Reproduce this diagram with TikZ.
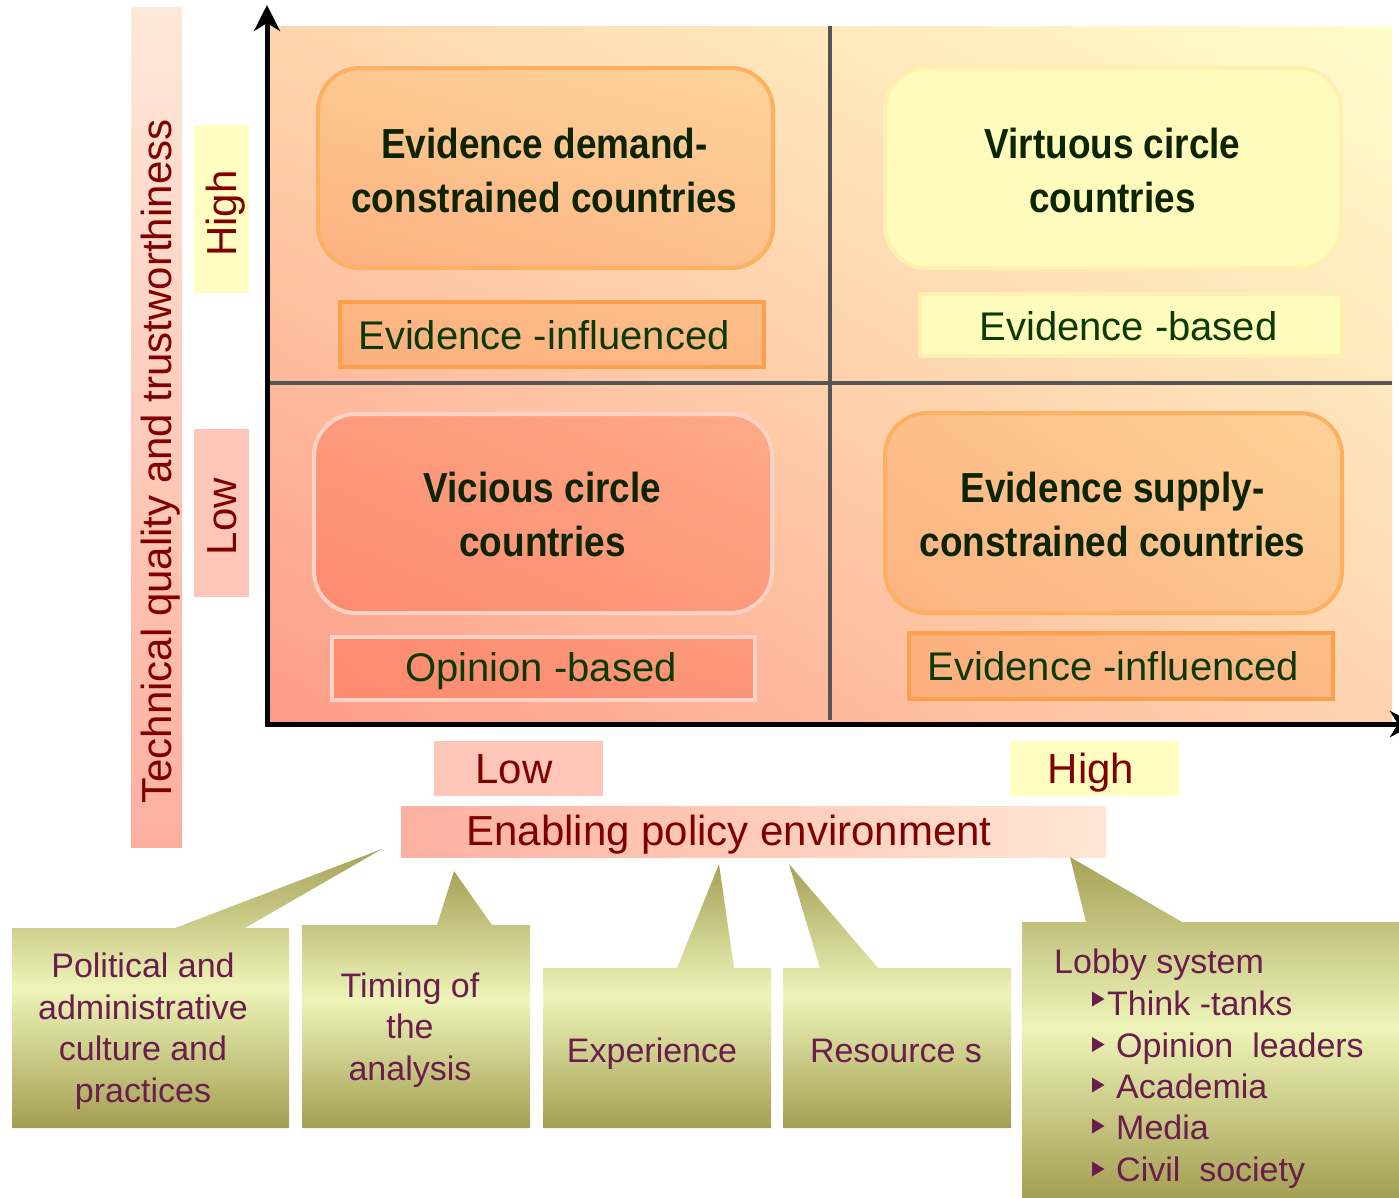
\documentclass[tikz,border=0pt]{standalone}
\usepackage{fontspec}
\setmainfont{Liberation Sans}
\newfontfamily\headfont[FakeStretch=0.88]{Liberation Sans}
\usetikzlibrary{arrows.meta,shadings}
\definecolor{bgUL}{HTML}{FED6AE}
\definecolor{bgUR}{HTML}{FFFDCB}
\definecolor{bgLL}{HTML}{FD9C88}
\definecolor{bgLR}{HTML}{FED4B0}
\definecolor{divider}{HTML}{555555}
\definecolor{headgreen}{HTML}{0C2400}
\definecolor{labgreen}{HTML}{0A3A00}
\definecolor{axred}{HTML}{800000}
\definecolor{plum}{HTML}{6B1E4E}
\definecolor{oliveD}{HTML}{A6A258}
\definecolor{oliveL}{HTML}{EEF4B8}
\definecolor{oliveB}{HTML}{A39F52}
\definecolor{orangeEdge}{HTML}{FDB060}
\definecolor{orangeEdgeL}{HTML}{FDA04C}
\definecolor{yellowFill}{HTML}{FFFBBD}
\definecolor{yellowEdge}{HTML}{FFF0B0}
\definecolor{pinkEdge}{HTML}{FFD2C6}
\definecolor{yBarTop}{HTML}{FEE8D8}
\definecolor{yBarBot}{HTML}{FDAF9E}
\definecolor{paleYellow}{HTML}{FFFDC0}
\definecolor{palePink}{HTML}{FDC6B8}
\definecolor{envL}{HTML}{FDB0A0}
\definecolor{envR}{HTML}{FFE6D4}
% quadrant box shades
\definecolor{qaUL}{HTML}{FDC890}\definecolor{qaUR}{HTML}{FDD49C}\definecolor{qaLL}{HTML}{FCB080}\definecolor{qaLR}{HTML}{FDC08C}
\definecolor{qcUL}{HTML}{FD9A7C}\definecolor{qcUR}{HTML}{FDAA88}\definecolor{qcLL}{HTML}{FD8A6E}\definecolor{qcLR}{HTML}{FD9A7C}
\definecolor{qdUL}{HTML}{FDBE88}\definecolor{qdUR}{HTML}{FED298}\definecolor{qdLL}{HTML}{FDB282}\definecolor{qdLR}{HTML}{FDC490}
% label shades
\definecolor{laUL}{HTML}{FDB682}\definecolor{laUR}{HTML}{FDC08A}\definecolor{laLL}{HTML}{FCAE7E}\definecolor{laLR}{HTML}{FDB886}
\definecolor{lcUL}{HTML}{FD8C70}\definecolor{lcUR}{HTML}{FD9A7C}\definecolor{lcLL}{HTML}{FD8A6E}\definecolor{lcLR}{HTML}{FD9478}
\definecolor{ldUL}{HTML}{FDB080}\definecolor{ldUR}{HTML}{FDBE88}\definecolor{ldLL}{HTML}{FDAE7E}\definecolor{ldLR}{HTML}{FDB886}
\newcommand\lobbybullet[1]{\fill[plum] (1092,#1-7.5) -- (1104.5,#1) -- (1092,#1+7.5) -- cycle;}
\begin{document}
\begin{tikzpicture}[x=1pt,y=-1pt,
  qbox/.style={rectangle, rounded corners=42pt, line width=4pt, inner sep=0pt},
  lbox/.style={rectangle, line width=4pt, inner sep=0pt},
  plainbox/.style={rectangle, inner sep=0pt, draw=none},
  headtxt/.style={font=\headfont\bfseries\fontsize{42}{53.5}\selectfont, text=headgreen, align=center, inner sep=0pt, anchor=base},
  labtxt/.style={font=\fontsize{40}{48}\selectfont, text=labgreen, inner sep=0pt, anchor=base},
  axtxt/.style={font=\fontsize{42}{50}\selectfont, text=axred, inner sep=0pt, anchor=base},
  calltxt/.style={font=\fontsize{34}{41.5}\selectfont, text=plum, align=center, inner sep=0pt, anchor=base},
  lobbytxt/.style={font=\fontsize{34}{41.5}\selectfont, text=plum, inner sep=0pt, anchor=base west},
  axisline/.style={line width=5pt, -{Stealth[length=26pt,width=26pt,inset=8pt]}},
  callout/.style={top color=oliveD, bottom color=oliveB, middle color=oliveL},
]
\useasboundingbox (0,0) rectangle (1399,1197);

% quadrant background
\shade[upper left=bgUL, upper right=bgUR, lower left=bgLL, lower right=bgLR] (270,26) rectangle (1392,721);
\draw[divider, line width=4pt] (830,26) -- (830,720);
\draw[divider, line width=4pt] (270,382.5) -- (1392,382.5);

% axes
\coordinate (origin) at (267,724);
\coordinate (ytip) at (267,5);
\coordinate (xtip) at (1416,724);
\coordinate (xstart) at (264.5,724);
\draw[axisline] (origin) -- (ytip);
\draw[axisline] (xstart) -- (xtip);

% quadrant boxes
\node[qbox, draw=orangeEdge, upper left=qaUL, upper right=qaUR, lower left=qaLL, lower right=qaLR,
      minimum width=455pt, minimum height=200pt] (q1box) at (545.5,168) {};
\node[qbox, draw=yellowEdge, fill=yellowFill, minimum width=456pt, minimum height=200pt] (q2box) at (1113,168) {};
\node[qbox, draw=pinkEdge, upper left=qcUL, upper right=qcUR, lower left=qcLL, lower right=qcLR,
      minimum width=458pt, minimum height=199pt] (q3box) at (543,513.5) {};
\node[qbox, draw=orangeEdge, upper left=qdUL, upper right=qdUR, lower left=qdLL, lower right=qdLR,
      minimum width=457pt, minimum height=200pt] (q4box) at (1113.5,513) {};

% multi-line nodes: base anchor = baseline of the last line
\node[headtxt] (q1txt) at (544.5,212) {Evidence demand-\\constrained countries};
\node[headtxt] (q2txt) at (1112.5,212) {Virtuous circle\\countries};
\node[headtxt] (q3txt) at (542.5,556) {Vicious circle\\countries};
\node[headtxt] (q4txt) at (1112.5,556) {Evidence supply-\\constrained countries};

% quadrant labels
\node[lbox, draw=orangeEdgeL, upper left=laUL, upper right=laUR, lower left=laLL, lower right=laLR,
      minimum width=424pt, minimum height=65pt] (l1box) at (552,334.5) {};
\node[lbox, draw=yellowEdge, fill=yellowFill, minimum width=422pt, minimum height=62pt] (l2box) at (1131,325) {};
\node[lbox, draw=pinkEdge, upper left=lcUL, upper right=lcUR, lower left=lcLL, lower right=lcLR,
      minimum width=423pt, minimum height=63pt] (l3box) at (543.5,668.5) {};
\node[lbox, draw=orangeEdgeL, upper left=ldUL, upper right=ldUR, lower left=ldLL, lower right=ldLR,
      minimum width=424pt, minimum height=66pt] (l4box) at (1121,666) {};

\node[labtxt] (l1txt) at (544,349) {Evidence -influenced};
\node[labtxt] (l2txt) at (1128.5,340) {Evidence -based};
\node[labtxt] (l3txt) at (541,681.5) {Opinion -based};
\node[labtxt] (l4txt) at (1113.5,680) {Evidence -influenced};

% y axis labels
\node[plainbox, top color=yBarTop, bottom color=yBarBot, minimum width=51pt, minimum height=840pt] (ybar) at (156.5,427) {};
\node[axtxt, rotate=90] (ytitle) at (171,461.5) {Technical quality and trustworthiness};
\node[plainbox, fill=paleYellow, minimum width=55pt, minimum height=168pt] (yhighbox) at (221.5,209) {};
\node[axtxt, rotate=90] (yhigh) at (236,213.5) {High};
\node[plainbox, fill=palePink, minimum width=55pt, minimum height=168pt] (ylowbox) at (221.5,513) {};
\node[axtxt, rotate=90] (ylow) at (236,516.5) {Low};

% x axis labels
\node[plainbox, fill=palePink, minimum width=169pt, minimum height=55pt] (xlowbox) at (518.5,768.5) {};
\node[axtxt] (xlow) at (514,783) {Low};
\node[plainbox, fill=paleYellow, minimum width=169pt, minimum height=55pt] (xhighbox) at (1094.5,768.5) {};
\node[axtxt] (xhigh) at (1091,783) {High};
\node[plainbox, left color=envL, right color=envR, minimum width=705pt, minimum height=51pt] (envbox) at (753.5,831.5) {};
\node[axtxt] (envtxt) at (729,845) {Enabling policy environment};

% callouts
\shade[callout] (12,928) -- (175,928) -- (382,849) -- (245,928) -- (289,928) -- (289,1128) -- (12,1128) -- cycle;
\shade[callout] (302,925) -- (437,925) -- (454,871) -- (492,925) -- (530,925) -- (530,1128) -- (302,1128) -- cycle;
\shade[callout] (543,968) -- (677,968) -- (719,864) -- (734,968) -- (771,968) -- (771,1128) -- (543,1128) -- cycle;
\shade[callout] (783,968) -- (820,968) -- (789,864) -- (878,968) -- (1011,968) -- (1011,1128) -- (783,1128) -- cycle;
\shade[callout] (1022,922) -- (1086,922) -- (1070,857) -- (1182,922) -- (1400,922) -- (1400,1198) -- (1022,1198) -- cycle;

\node[calltxt] (c1txt) at (143,1102) {Political and\\administrative\\culture and\\practices};
\node[calltxt] (c2txt) at (410,1080) {Timing of\\the\\analysis};
\node[calltxt] (c3txt) at (652,1062) {Experience};
\node[calltxt] (c4txt) at (896,1062) {Resource s};

\node[lobbytxt] (lobby) at (1054,973) {Lobby system};
\lobbybullet{999}
\node[lobbytxt] (think) at (1107,1015) {Think -tanks};
\lobbybullet{1044.5}
\node[lobbytxt] (opinion) at (1116,1057) {Opinion\ \ leaders};
\lobbybullet{1085}
\node[lobbytxt] (academia) at (1116,1098) {Academia};
\lobbybullet{1126}
\node[lobbytxt] (media) at (1116,1139) {Media};
\lobbybullet{1169}
\node[lobbytxt] (civil) at (1116,1181) {Civil\ \ society};
\end{tikzpicture}
\end{document}
